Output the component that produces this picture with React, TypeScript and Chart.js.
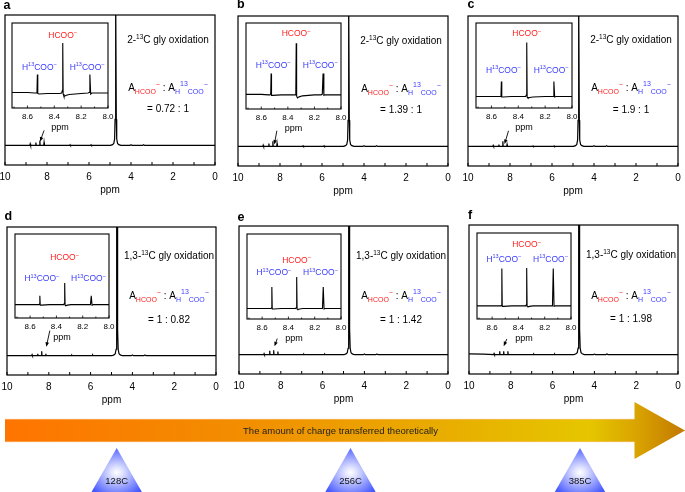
import React, { useEffect, useRef } from 'react';
import { Chart, registerables } from 'chart.js';

Chart.register(...registerables);

const FONT = '"Liberation Sans", Arial, Helvetica, sans-serif';
const RED = '#ff2020';
const BLUE = '#3a3aff';

// ---------------- data ----------------
const panelLetters = ['a', 'b', 'c', 'd', 'e', 'f'];
const isotopePrefix = ['2-', '2-', '2-', '1,3-', '1,3-', '1,3-'];
const ratioLabels = ['= 0.72 : 1', '= 1.39 : 1', '= 1.9 : 1', '= 1 : 0.82', '= 1 : 1.42', '= 1 : 1.98'];

const mainTickLabelsStep = 2;
const mainTickMarks = [0, 1, 2, 3, 4, 5, 6, 7, 8, 9, 10];

// full 1H NMR spectra (ppm, intensity)
const mainPpm = [10, 9.3, 8.82, 8.8, 8.78, 8.545, 8.53, 8.515, 8.355, 8.34, 8.325, 8.155, 8.14, 8.125, 7.5, 6.92, 6.9, 6.88, 6.1, 5.92, 5.9, 5.88, 5.3, 4.98, 4.88, 4.82, 4.78, 4.76, 4.745, 4.73, 4.715, 4.7, 4.68, 4.64, 4.58, 4.48, 4.05, 4.0, 3.95, 3.45, 3.4, 3.35, 2.5, 0];
const mainA = [0, 0, 0, 0.012, 0, 0, 0.022, 0, 0, 0.038, 0, 0, 0.022, 0, 0, 0, 0.006, 0, 0, 0, 0.005, 0, 0, 0, 0.006, 0.015, 0.05, 0.2, 1.2, 3, 1.2, 0.2, 0.05, 0.015, 0.006, 0, 0, 0.005, 0, 0, 0.006, 0, 0, 0];
const mainB = [0, 0, 0, 0.01, 0, 0, 0.022, 0, 0, 0.04, 0, 0, 0.022, 0, 0, 0, 0.005, 0, 0, 0, 0.005, 0, 0, 0, 0.006, 0.015, 0.05, 0.2, 1.2, 3, 1.2, 0.2, 0.05, 0.015, 0.006, 0, 0, 0.005, 0, 0, 0.006, 0, 0, 0];
const mainC = [0, 0, 0, 0.008, 0, 0, 0.015, 0, 0, 0.04, 0, 0, 0.015, 0, 0, 0, 0.004, 0, 0, 0, 0.004, 0, 0, 0, 0.006, 0.015, 0.05, 0.2, 1.2, 3, 1.2, 0.2, 0.05, 0.015, 0.006, 0, 0, 0.005, 0, 0, 0.006, 0, 0, 0];
const mainD = [0, 0, 0, 0.008, 0, 0, 0.015, 0, 0, 0.035, 0, 0, 0.015, 0, 0, 0, 0.004, 0, 0, 0, 0.005, 0, 0, 0, 0.006, 0.015, 0.05, 0.2, 1.2, 3, 1.2, 0.2, 0.05, 0.015, 0.006, 0, 0, 0.005, 0, 0, 0.005, 0, 0, 0];
const mainE = [0, 0, 0, 0.008, 0, 0, 0.03, 0, 0, 0.035, 0, 0, 0.025, 0, 0, 0, 0.004, 0, 0, 0, 0.004, 0, 0, 0, 0.006, 0.015, 0.05, 0.2, 1.2, 3, 1.2, 0.2, 0.05, 0.015, 0.006, 0, 0, 0.005, 0, 0, 0.005, 0, 0, 0];
const mainF = [0.005, 0.004, 0, 0.008, 0, 0, 0.026, 0, 0, 0.026, 0, 0, 0.026, 0, 0, 0, 0.004, 0, 0, 0, 0.004, 0, 0, 0, 0.006, 0.015, 0.05, 0.2, 1.2, 3, 1.2, 0.2, 0.05, 0.015, 0.006, 0, 0, 0.004, 0, 0, 0.005, 0, 0, 0];
const mainSeries = [mainA, mainB, mainC, mainD, mainE, mainF];

// zoomed formate region (ppm, intensity)
const insetPpm = [8.72, 8.6, 8.545, 8.535, 8.529, 8.526, 8.523, 8.515, 8.45, 8.36, 8.345, 8.34, 8.337, 8.334, 8.328, 8.315, 8.29, 8.2, 8.15, 8.141, 8.135, 8.129, 8.12, 8.0];
const insetA = [0.01, 0.01, 0, 0, 0.02, 0.37, -0.01, -0.02, -0.01, -0.01, 0, 0.05, 1.0, -0.02, -0.07, -0.05, -0.03, -0.01, 0, 0.01, 0.37, -0.02, 0, 0];
const insetB = [-0.01, -0.01, -0.02, -0.02, 0, 0.4, -0.03, -0.03, -0.02, -0.02, -0.02, 0.04, 1.0, -0.04, -0.08, -0.06, -0.04, -0.02, -0.02, -0.01, 0.4, -0.03, -0.02, -0.02];
const insetC = [-0.07, -0.07, -0.07, -0.07, -0.06, 0.23, -0.08, -0.08, -0.07, -0.07, -0.07, -0.04, 1.01, -0.08, -0.1, -0.09, -0.08, -0.07, -0.07, -0.07, 0.23, -0.08, -0.07, -0.07];
const insetD = [-0.03, -0.03, -0.03, -0.03, -0.02, 0.15, -0.04, -0.04, -0.03, -0.03, -0.03, -0.01, 0.41, -0.04, -0.05, -0.04, -0.03, -0.03, -0.03, -0.03, 0.15, -0.04, -0.03, -0.03];
const insetE = [-0.09, -0.09, -0.09, -0.09, -0.08, 0.34, -0.1, -0.1, -0.09, -0.09, -0.09, -0.07, 0.54, -0.1, -0.11, -0.1, -0.09, -0.09, -0.09, -0.09, 0.34, -0.1, -0.09, -0.09];
const insetF = [-0.04, -0.04, -0.04, -0.04, -0.03, 0.7, -0.05, -0.05, -0.04, -0.04, -0.04, -0.02, 0.71, -0.05, -0.06, -0.05, -0.04, -0.04, -0.04, -0.04, 0.7, -0.05, -0.04, -0.04];
const insetSeries = [insetA, insetB, insetC, insetD, insetE, insetF];

const insetTickMarks = [8.0, 8.1, 8.2, 8.3, 8.4, 8.5, 8.6, 8.7];
// peak label anchors (ppm, intensity)
const hcooLabelPpm = 8.337;
const h13LabelPpm = [8.51, 8.155];
const hcooLabelY = [1.17, 1.2, 1.2, 0.93, 0.89, 1.18];
const h13LabelY = [0.53, 0.57, 0.47, 0.5, 0.64, 0.89];

// arrows pointing to the formate peaks in the full spectra
const arrowTipPpm = [8.33, 8.27, 8.26, 8.12, 8.3, 8.34];
const arrowTipY = [0.03, 0.015, 0.018, 0.07, 0.065, 0.065];
const arrowTailPpm = [8.14, 8.15, 8.07, 7.95, 8.17, 8.19];
const arrowTailY = [0.115, 0.12, 0.12, 0.195, 0.125, 0.12];

const triangleLabels = ['128C', '256C', '385C'];
const arrowCaption = 'The amount of charge transferred theoretically';

// ---------------- layout ----------------
type Box = { l: number; t: number; r: number; b: number };
const mainBoxes: Box[] = [
  { l: 4.7, t: 15.2, r: 214.3, b: 165.2 },
  { l: 237.7, t: 15.5, r: 447.7, b: 165.5 },
  { l: 467.7, t: 15.5, r: 677.7, b: 165.5 },
  { l: 7, t: 226.5, r: 216, b: 374 },
  { l: 239, t: 226, r: 447.7, b: 374 },
  { l: 469, t: 225.3, r: 677.7, b: 374 },
];
const insetBoxes: Box[] = [
  { l: 11.7, t: 23, r: 107.3, b: 108 },
  { l: 245.7, t: 22.7, r: 341, b: 108.3 },
  { l: 476, t: 23.3, r: 571.7, b: 108.3 },
  { l: 15, t: 234, r: 109.3, b: 318.3 },
  { l: 246.7, t: 234, r: 340.3, b: 319 },
  { l: 476.7, t: 233.3, r: 571, b: 319 },
];
const textDy = [
  { title: 28, formula: 75.5, ratio: 97 },
  { title: 28, formula: 75.5, ratio: 96.5 },
  { title: 27, formula: 74.5, ratio: 96.5 },
  { title: 31.5, formula: 71.5, ratio: 95.5 },
  { title: 33, formula: 72.5, ratio: 96.5 },
  { title: 32.5, formula: 73.5, ratio: 97 },
];
const letterPos = [
  { x: 3.5, y: 8.5 }, { x: 237, y: 8.3 }, { x: 467.5, y: 8.3 },
  { x: 4.5, y: 220 }, { x: 237.5, y: 221 }, { x: 468, y: 219.3 },
];
const triangleX = [116.7, 350.5, 580];

const MPX = 14, MPT = 3, MAIN_AXIS_H = 31;
const IPX = 10, IPT = 2, INSET_AXIS_H = 25;

// ---------------- helpers ----------------
type Run = { t: string; s: number; dy?: number; c?: string };
function drawRuns(ctx: CanvasRenderingContext2D, runs: Run[], cx: number, by: number) {
  let w = 0;
  for (const r of runs) {
    ctx.font = `${r.s}px ${FONT}`;
    w += ctx.measureText(r.t).width;
  }
  let x = cx - w / 2;
  ctx.textBaseline = 'alphabetic';
  ctx.textAlign = 'left';
  for (const r of runs) {
    ctx.font = `${r.s}px ${FONT}`;
    ctx.fillStyle = r.c || '#000';
    ctx.fillText(r.t, x, by + (r.dy || 0));
    x += ctx.measureText(r.t).width;
  }
}

function mainDeco(i: number) {
  return {
    id: 'mainDeco',
    afterDraw(chart: any) {
      const { ctx, chartArea: a, scales } = chart;
      const x = scales.x, y = scales.y;
      ctx.save();
      ctx.strokeStyle = '#000';
      ctx.lineWidth = 1.2;
      ctx.strokeRect(a.left, a.top, a.right - a.left, a.bottom - a.top);
      ctx.lineWidth = 1;
      for (const v of mainTickMarks) {
        const px = x.getPixelForValue(v);
        ctx.beginPath();
        ctx.moveTo(px, a.bottom);
        ctx.lineTo(px, a.bottom - 3);
        ctx.stroke();
      }
      // arrow
      const tx = x.getPixelForValue(arrowTipPpm[i]), ty = y.getPixelForValue(arrowTipY[i]);
      const sx = x.getPixelForValue(arrowTailPpm[i]), sy = y.getPixelForValue(arrowTailY[i]);
      const ang = Math.atan2(ty - sy, tx - sx);
      ctx.lineWidth = 0.9;
      ctx.beginPath();
      ctx.moveTo(sx, sy);
      ctx.lineTo(tx - Math.cos(ang) * 2, ty - Math.sin(ang) * 2);
      ctx.stroke();
      ctx.fillStyle = '#000';
      ctx.beginPath();
      ctx.moveTo(tx, ty);
      ctx.lineTo(tx - Math.cos(ang) * 4.5 + Math.sin(ang) * 1.8, ty - Math.sin(ang) * 4.5 - Math.cos(ang) * 1.8);
      ctx.lineTo(tx - Math.cos(ang) * 4.5 - Math.sin(ang) * 1.8, ty - Math.sin(ang) * 4.5 + Math.cos(ang) * 1.8);
      ctx.closePath();
      ctx.fill();
      // texts
      const cx = a.right - 47;
      const d = textDy[i];
      drawRuns(ctx, [
        { t: isotopePrefix[i], s: 10 },
        { t: '13', s: 6.5, dy: -4 },
        { t: 'C gly oxidation', s: 10 },
      ], cx, a.top + d.title);
      drawRuns(ctx, [
        { t: 'A', s: 10 },
        { t: 'HCOO', s: 7, dy: 3, c: RED },
        { t: '\u2212', s: 7, dy: -3.5, c: RED },
        { t: ' : A', s: 10 },
        { t: 'H', s: 7, dy: 3, c: BLUE },
        { t: '13', s: 7, dy: -5, c: BLUE },
        { t: 'COO', s: 7, dy: 3, c: BLUE },
        { t: '\u2212', s: 7, dy: -3.5, c: BLUE },
      ], cx, a.top + d.formula);
      drawRuns(ctx, [{ t: ratioLabels[i], s: 10 }], cx, a.top + d.ratio);
      ctx.restore();
    },
  };
}

function insetDeco(i: number) {
  return {
    id: 'insetDeco',
    afterDraw(chart: any) {
      const { ctx, chartArea: a, scales } = chart;
      const x = scales.x, y = scales.y;
      ctx.save();
      ctx.strokeStyle = '#000';
      ctx.lineWidth = 1.1;
      ctx.strokeRect(a.left, a.top, a.right - a.left, a.bottom - a.top);
      ctx.lineWidth = 0.8;
      insetTickMarks.forEach((v, k) => {
        const px = x.getPixelForValue(v);
        if (px < a.left - 0.5 || px > a.right + 0.5) return;
        ctx.beginPath();
        ctx.moveTo(px, a.bottom);
        ctx.lineTo(px, a.bottom - (k % 2 === 0 ? 2.5 : 1.5));
        ctx.stroke();
      });
      drawRuns(ctx, [
        { t: 'HCOO', s: 8.5, c: RED },
        { t: '\u2212', s: 6, dy: -3.5, c: RED },
      ], x.getPixelForValue(hcooLabelPpm), y.getPixelForValue(hcooLabelY[i]) + 3);
      for (const p of h13LabelPpm) {
        drawRuns(ctx, [
          { t: 'H', s: 8.5, c: BLUE },
          { t: '13', s: 5.5, dy: -3.5, c: BLUE },
          { t: 'COO', s: 8.5, c: BLUE },
          { t: '\u2212', s: 6, dy: -3.5, c: BLUE },
        ], x.getPixelForValue(p), y.getPixelForValue(h13LabelY[i]) + 3);
      }
      ctx.restore();
    },
  };
}

function mainConfig(i: number): any {
  const pts = mainPpm.map((v, k) => ({ x: v, y: mainSeries[i][k] }));
  return {
    type: 'line',
    data: { datasets: [{ data: pts, borderColor: '#000', borderWidth: 1.2, pointRadius: 0, tension: 0, fill: false }] },
    options: {
      animation: false, responsive: false, devicePixelRatio: 1, events: [],
      layout: { padding: { left: MPX, right: MPX, top: MPT, bottom: 0 } },
      plugins: { legend: { display: false }, tooltip: { enabled: false } },
      scales: {
        x: {
          type: 'linear', reverse: true, min: 0, max: 10,
          ticks: { stepSize: mainTickLabelsStep, includeBounds: false, maxRotation: 0, color: '#000', padding: 6.5, font: { family: FONT, size: 10 }, callback: (v: any) => String(v) },
          grid: { display: false, drawTicks: false },
          border: { display: false },
          title: { display: true, text: 'ppm', color: '#000', padding: 0, font: { family: FONT, size: 10 } },
          afterFit: (s: any) => { s.height = MAIN_AXIS_H; },
        },
        y: { display: false, min: -0.15, max: 1 },
      },
    },
    plugins: [mainDeco(i)],
  };
}

function insetConfig(i: number): any {
  const pts = insetPpm.map((v, k) => ({ x: v, y: insetSeries[i][k] }));
  return {
    type: 'line',
    data: { datasets: [{ data: pts, borderColor: '#000', borderWidth: 1.1, pointRadius: 0, tension: 0, fill: false }] },
    options: {
      animation: false, responsive: false, devicePixelRatio: 1, events: [],
      layout: { padding: { left: IPX, right: IPX, top: IPT, bottom: 0 } },
      plugins: { legend: { display: false }, tooltip: { enabled: false } },
      scales: {
        x: {
          type: 'linear', reverse: true, min: 8.0, max: 8.715,
          ticks: { stepSize: 0.2, includeBounds: false, maxRotation: 0, color: '#000', padding: 4, font: { family: FONT, size: 8 }, callback: (v: any) => Number(v).toFixed(1) },
          grid: { display: false, drawTicks: false },
          border: { display: false },
          title: { display: true, text: 'ppm', color: '#000', padding: 0, font: { family: FONT, size: 9 } },
          afterFit: (s: any) => { s.height = INSET_AXIS_H; },
        },
        y: { display: false, min: -0.3, max: 1.4 },
      },
    },
    plugins: [insetDeco(i)],
  };
}

function ChartCanvas({ box, padX, padT, axisH, make }: { box: Box; padX: number; padT: number; axisH: number; make: () => any }) {
  const ref = useRef<HTMLCanvasElement | null>(null);
  const w = Math.round(box.r - box.l) + 2 * padX;
  const h = Math.round(box.b - box.t) + padT + axisH;
  useEffect(() => {
    const chart = new Chart(ref.current as HTMLCanvasElement, make());
    return () => chart.destroy();
  }, []);
  return (
    <canvas
      ref={ref}
      width={w}
      height={h}
      style={{ position: 'absolute', left: box.l - padX, top: box.t - padT, width: w, height: h }}
    />
  );
}

export default function App() {
  return (
    <div style={{ position: 'absolute', left: 0, top: 0, width: 685, height: 492, background: '#fff', overflow: 'hidden' }}>
      {panelLetters.map((_, i) => (
        <ChartCanvas key={'m' + i} box={mainBoxes[i]} padX={MPX} padT={MPT} axisH={MAIN_AXIS_H} make={() => mainConfig(i)} />
      ))}
      {panelLetters.map((_, i) => (
        <ChartCanvas key={'i' + i} box={insetBoxes[i]} padX={IPX} padT={IPT} axisH={INSET_AXIS_H} make={() => insetConfig(i)} />
      ))}
      <svg width={685} height={492} style={{ position: 'absolute', left: 0, top: 0, pointerEvents: 'none' }}>
        <defs>
          <linearGradient id="arrowGrad" gradientUnits="userSpaceOnUse" x1="5" y1="0" x2="685" y2="0">
            <stop offset="0" stopColor="#ff7400" />
            <stop offset="0.35" stopColor="#f28e00" />
            <stop offset="0.62" stopColor="#e9aa00" />
            <stop offset="0.86" stopColor="#e5c600" />
            <stop offset="0.93" stopColor="#d9a300" />
            <stop offset="1" stopColor="#c27800" />
          </linearGradient>
          <radialGradient id="triGrad" cx="0.5" cy="0.55" r="0.6">
            <stop offset="0" stopColor="#ffffff" />
            <stop offset="0.2" stopColor="#dfe2ff" />
            <stop offset="1" stopColor="#4658ff" />
          </radialGradient>
        </defs>
        {panelLetters.map((t, i) => (
          <text key={t} x={letterPos[i].x} y={letterPos[i].y} fontFamily={FONT} fontWeight="bold" fontSize={12.5} fill="#000">{t}</text>
        ))}
        <polygon
          points="5,419 634.5,419 634.5,402 685,430.5 634.5,459 634.5,442 5,442"
          fill="url(#arrowGrad)"
        />
        <line x1={5} y1={419.3} x2={634.5} y2={419.3} stroke="#ffc080" strokeWidth={0.8} opacity={0.8} />
        <line x1={5} y1={441.7} x2={634.5} y2={441.7} stroke="#ffc080" strokeWidth={0.8} opacity={0.8} />
        <text x={340.5} y={434} textAnchor="middle" fontFamily={FONT} fontSize={9.5} fill="#222">{arrowCaption}</text>
        {triangleLabels.map((t, i) => (
          <g key={t}>
            <polygon
              points={`${triangleX[i]},448 ${triangleX[i] - 25.5},492.5 ${triangleX[i] + 25.5},492.5`}
              fill="url(#triGrad)"
            />
            <text x={triangleX[i]} y={484.2} textAnchor="middle" fontFamily={FONT} fontSize={9.5} fill="#111">{t}</text>
          </g>
        ))}
      </svg>
    </div>
  );
}
